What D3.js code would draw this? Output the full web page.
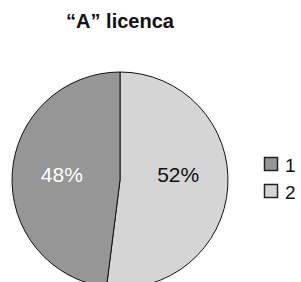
<!DOCTYPE html>
<html>
<head>
<meta charset="utf-8">
<script src="https://cdn.jsdelivr.net/npm/d3@7/dist/d3.min.js"></script>
<style>
  html, body { margin: 0; padding: 0; background: #fff; overflow: hidden; }
  text { font-family: "Liberation Sans", Arial, sans-serif; }
</style>
</head>
<body>
<svg id="chart" width="301" height="282"></svg>
<script>
var title = "\u201CA\u201D licenca";
var categories = ["1", "2"];
var values = [48, 52];
var colors = ["#969696", "#d5d5d5"];
var labelColors = ["#ffffff", "#111111"];

var svg = d3.select("#chart");
var width = +svg.attr("width"),
    height = +svg.attr("height");

var cx = 120, cy = 180, radius = 108;

svg.append("text")
    .attr("x", 120)
    .attr("y", 28)
    .attr("text-anchor", "middle")
    .style("font-size", "20px")
    .style("font-weight", "bold")
    .attr("fill", "#111")
    .text(title);

// slice "2" starts at 12 o'clock and runs clockwise, "1" fills the rest
var data = categories.map(function (c, i) { return { name: c, value: values[i], idx: i }; });
var ordered = [data[1], data[0]];

var pie = d3.pie()
    .sort(null)
    .value(function (d) { return d.value; });

var arc = d3.arc().innerRadius(0).outerRadius(radius);
var labelArc = d3.arc().innerRadius(radius * 0.54).outerRadius(radius * 0.54);

var g = svg.append("g").attr("transform", "translate(" + cx + "," + cy + ")");

var arcs = pie(ordered);

g.selectAll("path")
    .data(arcs)
    .enter()
    .append("path")
    .attr("d", arc)
    .attr("fill", function (d) { return colors[d.data.idx]; })
    .attr("stroke", "#111")
    .attr("stroke-width", 1);

g.selectAll("text.lbl")
    .data(arcs)
    .enter()
    .append("text")
    .attr("class", "lbl")
    .attr("x", function (d) { return labelArc.centroid(d)[0]; })
    .attr("y", 2)
    .attr("text-anchor", "middle")
    .style("font-size", "21px")
    .attr("fill", function (d) { return labelColors[d.data.idx]; })
    .text(function (d) { return d.data.value + "%"; });

// legend
var legend = svg.append("g").attr("transform", "translate(264,157)");
var item = legend.selectAll("g")
    .data(data)
    .enter()
    .append("g")
    .attr("transform", function (d, i) { return "translate(0," + (i * 27) + ")"; });

item.append("rect")
    .attr("x", 0.5)
    .attr("y", 0.5)
    .attr("width", 13)
    .attr("height", 13)
    .attr("fill", function (d) { return colors[d.idx]; })
    .attr("stroke", "#222")
    .attr("stroke-width", 1.5);

item.append("text")
    .attr("x", 21)
    .attr("y", 14.5)
    .style("font-size", "19px")
    .attr("fill", "#111")
    .text(function (d) { return d.name; });
</script>
</body>
</html>
